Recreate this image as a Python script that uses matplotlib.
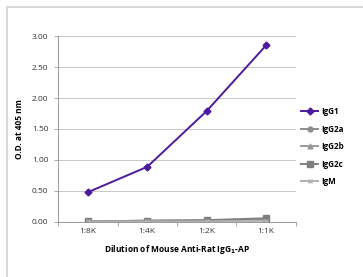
import matplotlib.pyplot as plt
from matplotlib.lines import Line2D
import numpy as np

# dilutions and O.D. readings
dilutions = ['1:8K', '1:4K', '1:2K', '1:1K']
igg1 = [0.48, 0.89, 1.79, 2.85]
igg2a = [0.01, 0.02, 0.02, 0.04]
igg2b = [0.01, 0.02, 0.02, 0.03]
igg2c = [0.01, 0.02, 0.03, 0.06]
igm = [0.01, 0.01, 0.01, 0.02]

plt.rcParams['font.family'] = ['Open Sans', 'DejaVu Sans']

fig = plt.figure(figsize=(3.63, 2.77), dpi=100)
ax = fig.add_axes([0.160, 0.1986, 0.655, 0.6714])

x = np.arange(len(dilutions))
ax.plot(x, igg1, color='#4b1a9e', marker='D', markersize=3.5, lw=1.4, label='IgG1', zorder=5)
ax.plot(x, igg2a, color='#8c8c8c', marker='o', markersize=3.5, lw=1.4, label='IgG2a')
ax.plot(x, igg2b, color='#999999', marker='^', markersize=3.5, lw=1.4, label='IgG2b')
ax.plot(x, igg2c, color='#7f7f7f', marker='s', markersize=4, lw=1.4, label='IgG2c')
ax.plot(x, igm, color='#b0b0b0', marker='x', markersize=3.5, lw=1.4, label='IgM')

ax.set_xlim(-0.5, 3.5)
ax.set_ylim(0, 3)
yt = np.arange(0, 3.01, 0.5)
ax.set_yticks(yt)
ax.set_yticklabels(['%.2f' % v for v in yt])
ax.set_xticks(x)
ax.set_xticklabels(dilutions)
ax.set_xticks(np.arange(-0.5, 3.6, 1), minor=True)
ax.tick_params(axis='x', which='major', length=0, labelsize=6, pad=4, labelcolor='#333333')
ax.tick_params(axis='x', which='minor', length=3, color='#999999', width=0.6)
ax.tick_params(axis='y', length=3, color='#999999', width=0.6, labelsize=6, pad=4, labelcolor='#333333')

ax.grid(axis='y', color='#c8c8c8', lw=0.7)
ax.set_axisbelow(True)
for s in ['top', 'right']:
    ax.spines[s].set_visible(False)
for s in ['left', 'bottom']:
    ax.spines[s].set_color('#999999')
    ax.spines[s].set_linewidth(0.7)

ax.set_xlabel(r'Dilution of Mouse Anti-Rat IgG$_\mathbf{1}$-AP', fontsize=6, fontweight='bold', labelpad=6)
ax.set_ylabel('O.D. at 405 nm', fontsize=6, fontweight='bold', labelpad=6)

leg = ax.legend(loc='center left', bbox_to_anchor=(0.99, 0.405), frameon=False,
                handlelength=2.2, labelspacing=1.05, handletextpad=0.3,
                prop={'weight': 'bold', 'size': 5.8})

# light frame around the figure
fig.add_artist(Line2D([0.019, 0.019], [0.0, 0.975], transform=fig.transFigure, color='#d9d9d9', lw=1.5))
fig.add_artist(Line2D([0.019, 1.0], [0.975, 0.975], transform=fig.transFigure, color='#d9d9d9', lw=1.5))

fig.savefig('out.png', dpi=100)
